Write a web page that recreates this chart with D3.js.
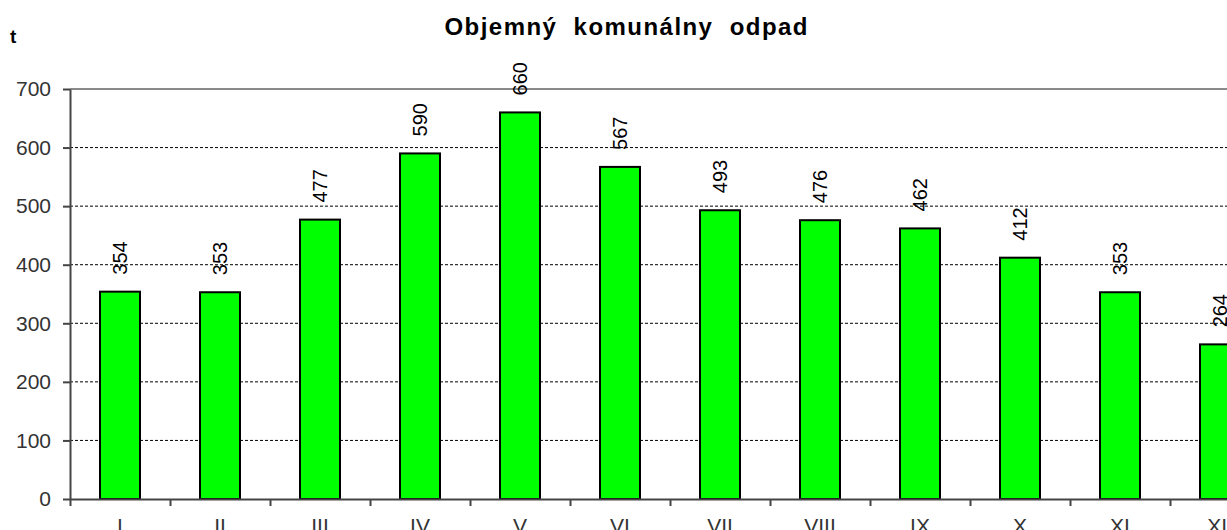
<!DOCTYPE html>
<html>
<head>
<meta charset="utf-8">
<script src="https://cdn.jsdelivr.net/npm/d3@7"></script>
<style>
  html, body { margin: 0; padding: 0; background: #fff; overflow: hidden; }
  svg { display: block; font-family: Arial, "Liberation Sans", sans-serif; }
</style>
</head>
<body>
<svg id="chart" width="1227" height="530"></svg>
<script>
const months = ['I', 'II', 'III', 'IV', 'V', 'VI', 'VII', 'VIII', 'IX', 'X', 'XI', 'XII']
const tons = [354, 353, 477, 590, 660, 567, 493, 476, 462, 412, 353, 264]
const yTicks = [0, 100, 200, 300, 400, 500, 600, 700]

const data = months.map((m, i) => ({ month: m, value: tons[i] }))

const svg = d3.select('#chart')
const width = 1227
const height = 530

// plot area runs past the right edge of the window (as in the original)
const plotLeft = 70, plotRight = 1270, plotTop = 89, plotBottom = 499

svg.append('rect').attr('width', width).attr('height', height).attr('fill', '#fff')

// ------------------
// Scales
// ------------------
const x = d3.scaleBand()
  .domain(months)
  .range([plotLeft, plotRight])
  .paddingInner(0.6)
  .paddingOuter(0.3)

const xEdge = d3.scaleLinear()
  .domain([0, months.length])
  .range([plotLeft, plotRight])

const y = d3.scaleLinear()
  .domain([0, 700])
  .range([plotBottom, plotTop])

// ------------------
// Gridlines
// ------------------
svg.append('g')
  .selectAll('line')
  .data(yTicks.filter(d => d > 0 && d < 700))
  .join('line')
  .attr('x1', plotLeft).attr('x2', plotRight)
  .attr('y1', d => y(d)).attr('y2', d => y(d))
  .attr('stroke', '#000')
  .attr('stroke-width', 1)
  .attr('stroke-dasharray', '3,2')

// top border of plot area
svg.append('line')
  .attr('x1', plotLeft).attr('x2', plotRight)
  .attr('y1', y(700)).attr('y2', y(700))
  .attr('stroke', '#8a8a8a')
  .attr('stroke-width', 2)

// ------------------
// Bars
// ------------------
svg.append('g')
  .selectAll('rect')
  .data(data)
  .join('rect')
  .attr('x', d => x(d.month))
  .attr('y', d => y(d.value))
  .attr('width', x.bandwidth())
  .attr('height', d => y(0) - y(d.value))
  .attr('fill', '#00ff00')
  .attr('stroke', '#000')
  .attr('stroke-width', 2)

// value labels, rotated
svg.append('g')
  .selectAll('text')
  .data(data)
  .join('text')
  .attr('transform', d => `translate(${x(d.month) + x.bandwidth() / 2 + 7},${y(d.value) - 17}) rotate(-90)`)
  .attr('text-anchor', 'start')
  .attr('font-size', 20)
  .attr('fill', '#000')
  .text(d => d.value)

// ------------------
// Axes
// ------------------
const yAxis = svg.append('g')
  .attr('transform', `translate(${plotLeft},0)`)
  .call(d3.axisLeft(y).tickValues(yTicks).tickSize(7).tickPadding(12).tickSizeOuter(0))
yAxis.select('.domain').attr('stroke', '#444').attr('stroke-width', 2)
yAxis.selectAll('.tick line').attr('stroke', '#444').attr('stroke-width', 2)
yAxis.selectAll('.tick text')
  .attr('font-size', 21)
  .attr('font-family', 'Arial, "Liberation Sans", sans-serif')
  .attr('fill', '#333')

const xTicks = svg.append('g')
  .attr('transform', `translate(0,${plotBottom})`)
  .call(d3.axisBottom(xEdge).tickValues(d3.range(months.length + 1)).tickFormat('').tickSize(7).tickSizeOuter(0))
xTicks.select('.domain').attr('stroke', '#444').attr('stroke-width', 2)
xTicks.selectAll('.tick line').attr('stroke', '#444').attr('stroke-width', 2)

const xAxis = svg.append('g')
  .attr('transform', `translate(0,${plotBottom})`)
  .call(d3.axisBottom(x).tickSize(0).tickPadding(19))
xAxis.select('.domain').remove()
xAxis.selectAll('.tick text')
  .attr('font-size', 21)
  .attr('font-family', 'Arial, "Liberation Sans", sans-serif')
  .attr('fill', '#333')

// ------------------
// Title and unit
// ------------------
svg.append('text')
  .attr('x', 626)
  .attr('y', 35)
  .attr('text-anchor', 'middle')
  .attr('font-weight', 'bold')
  .attr('font-size', 24)
  .style('white-space', 'pre')
  .attr('textLength', 363)
  .attr('lengthAdjust', 'spacing')
  .text('Objemný  komunálny  odpad')

svg.append('text')
  .attr('x', 10)
  .attr('y', 43)
  .attr('font-weight', 'bold')
  .attr('font-size', 19)
  .text('t')
</script>
</body>
</html>
